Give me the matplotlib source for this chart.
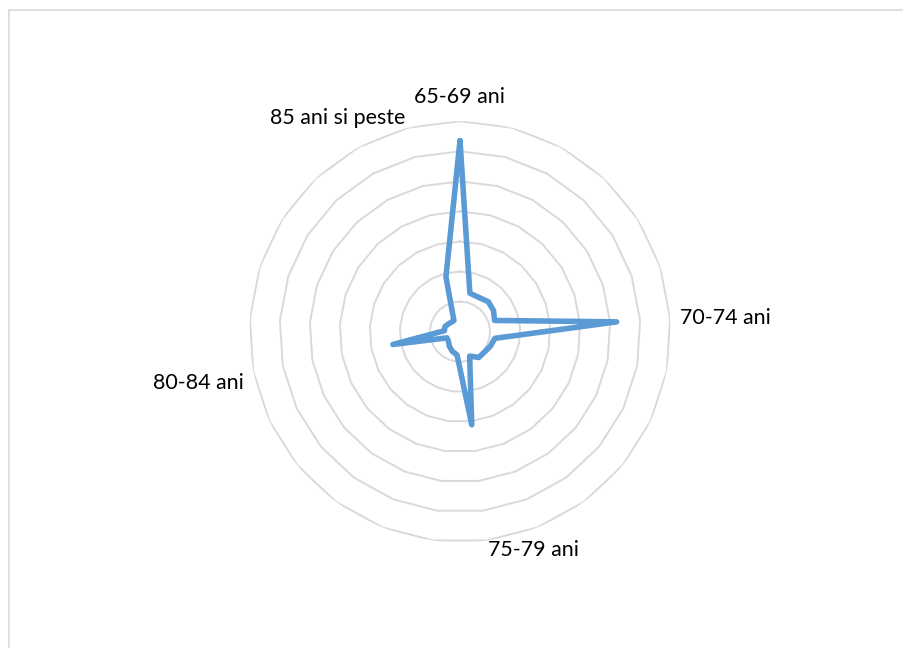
import numpy as np
import matplotlib
matplotlib.use("Agg")
import matplotlib.pyplot as plt
from matplotlib.patches import Rectangle

# 25 categories around the radar; only every sixth one carries a label
labels = ["65-69 ani", "", "", "", "", "",
          "70-74 ani", "", "", "", "", "",
          "75-79 ani", "", "", "", "", "",
          "80-84 ani", "", "", "", "", "",
          "85 ani si peste"]
values = [6.35, 1.32, 1.30, 1.37, 1.32, 1.21,
          5.22, 1.18, 1.12, 1.06, 1.06, 0.87,
          3.12, 0.78, 0.70, 0.60, 0.50, 0.48,
          2.27, 0.52, 0.53, 0.47, 0.43, 0.42,
          1.88]
ring_levels = [1, 2, 3, 4, 5, 6, 7]

plt.rcParams['font.family'] = ['Lato', 'DejaVu Sans']

W, H = 904, 648
fig = plt.figure(figsize=(W / 100, H / 100), dpi=100)

# chart area border (light gray, extends past the right/bottom edges)
fig.patches.append(Rectangle((9 / W, -0.1), 1.2, (H - 10) / H + 0.1,
                             transform=fig.transFigure, fill=False,
                             edgecolor='#d9d9d9', linewidth=1.2))

cx, cy, R = 460.0, 648 - 331.7, 210.5
ax = fig.add_axes([(cx - R) / W, (cy - R) / H, 2 * R / W, 2 * R / H],
                  projection='polar')
ax.set_theta_offset(np.pi / 2)
ax.set_theta_direction(-1)
ax.set_ylim(0, 7)
ax.grid(False)
ax.spines['polar'].set_visible(False)
ax.set_xticks([])
ax.set_yticks([])
ax.patch.set_alpha(0)

n = len(values)
theta = np.arange(n) * 2 * np.pi / n
theta_c = np.append(theta, theta[0])

for lvl in ring_levels:
    ax.plot(theta_c, [lvl] * (n + 1), color='#d9d9d9', linewidth=1.4, zorder=1)

vals_c = np.append(values, values[0])
ax.plot(theta_c, vals_c, color='#5b9bd5', linewidth=4.0,
        solid_joinstyle='round', solid_capstyle='round', zorder=3)

lab_r = 7.32
for t, lab in zip(theta, labels):
    if not lab:
        continue
    deg = np.degrees(t) % 360
    r = lab_r
    if deg < 1:
        ha, va = 'center', 'bottom'
        r = lab_r + 0.15
    elif deg < 180:
        ha, va = 'left', 'center'
    elif deg < 300:
        ha, va = 'right', 'top'
    else:
        ha, va = 'right', 'center'
    ax.text(t, r, lab, ha=ha, va=va, fontsize=15.4, color='#000000',
            clip_on=False)

fig.savefig('out.png', dpi=100)
